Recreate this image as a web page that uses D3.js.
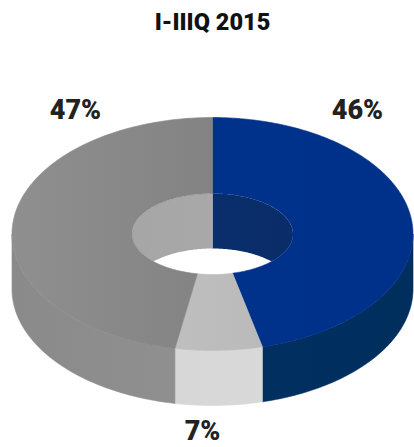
<!DOCTYPE html>
<html>
<head>
<meta charset="utf-8">
<script src="https://cdn.jsdelivr.net/npm/d3@7/dist/d3.min.js"></script>
<style>
  html, body { margin: 0; padding: 0; background: #ffffff; }
  svg { display: block; }
</style>
</head>
<body>
<svg id="chart" width="414" height="447"></svg>
<script>
// Share of the period, in percent, clockwise from 12 o'clock
const title = "I-IIIQ 2015";
const values = [46, 7, 47];
const labels = ["46%", "7%", "47%"];

// Ring geometry (projected ellipses) and extrusion depth
const W = 414, H = 447;
const cx = 212.5, cy = 234;
const outer = { rx: 200.5, ry: 116.5 };
const inner = { rx: 80.5, ry: 40.5 };
const depth = 55;

// Per-slice shading: top face, outer side, far inner wall
const shades = [
  { top: ["#00328c", "#00318a"], side: ["#013166", "#002e5d"], wall: ["#0b3070", "#092c66"] },
  { top: ["#c6c6c6", "#b3b3b3"], side: ["#d3d3d3", "#dcdcdc"], wall: ["#bdbdbd", "#bdbdbd"] },
  { top: ["#8f8f8f", "#777777"], side: ["#8a8a8a", "#989898"], wall: ["#a2a2a2", "#afafaf"] }
];

const svg = d3.select("#chart");
const defs = svg.append("defs");

// Horizontal gradients spanning the whole ring width
function gradient(id, stops) {
  const g = defs.append("linearGradient")
    .attr("id", id)
    .attr("gradientUnits", "userSpaceOnUse")
    .attr("x1", cx - outer.rx).attr("x2", cx + outer.rx)
    .attr("y1", 0).attr("y2", 0);
  g.selectAll("stop").data(stops).join("stop")
    .attr("offset", (d, i) => i / (stops.length - 1))
    .attr("stop-color", d => d);
  return `url(#${id})`;
}

const pie = d3.pie().sort(null).value(d => d).startAngle(0).endAngle(2 * Math.PI);
const arcs = pie(values);

// Project an angle (clockwise from top) on a ring ellipse, lowered by z
function pt(r, a, z = 0) {
  return [cx + r.rx * Math.sin(a), cy - r.ry * Math.cos(a) + z];
}
function arcPoints(r, a0, a1, z = 0) {
  const n = Math.max(2, Math.ceil(Math.abs(a1 - a0) / (Math.PI / 180)));
  return d3.range(n + 1).map(i => pt(r, a0 + (a1 - a0) * i / n, z));
}
const line = d3.line();
function closed(points) { return line(points) + "Z"; }

// Clip an angular span to a window [w0, w1]
function clipSpan(a0, a1, w0, w1) {
  const s = Math.max(a0, w0), e = Math.min(a1, w1);
  return s < e ? [s, e] : null;
}

// Gradient fills per slice
const fills = arcs.map((d, i) => ({
  top: gradient(`top${i}`, shades[i].top),
  side: gradient(`side${i}`, shades[i].side),
  wall: gradient(`wall${i}`, shades[i].wall)
}));

// 1) Far half of the inner wall, seen through the hole
defs.append("clipPath").attr("id", "hole")
  .append("path")
  .attr("d", closed(arcPoints(inner, 0, 2 * Math.PI)));

const holeG = svg.append("g").attr("clip-path", "url(#hole)");
const backWindows = [[-Math.PI / 2, Math.PI / 2], [1.5 * Math.PI, 2.5 * Math.PI]];
arcs.forEach((d, i) => {
  backWindows.forEach(([w0, w1]) => {
    const span = clipSpan(d.startAngle, d.endAngle, w0, w1);
    if (!span) return;
    const [s, e] = span;
    const pts = arcPoints(inner, s, e, 0).concat(arcPoints(inner, e, s, depth));
    holeG.append("path").attr("d", closed(pts)).attr("fill", fills[i].wall);
  });
});

// 2) Near half of the outer side wall
const sideG = svg.append("g");
arcs.forEach((d, i) => {
  const span = clipSpan(d.startAngle, d.endAngle, Math.PI / 2, 1.5 * Math.PI);
  if (!span) return;
  const [s, e] = span;
  const pts = arcPoints(outer, s, e, 0).concat(arcPoints(outer, e, s, depth));
  sideG.append("path").attr("d", closed(pts))
    .attr("fill", fills[i].side)
    .attr("stroke", fills[i].side).attr("stroke-width", 0.6);
});

// 3) Top faces of the ring
const topG = svg.append("g");
arcs.forEach((d, i) => {
  const pts = arcPoints(outer, d.startAngle, d.endAngle)
    .concat(arcPoints(inner, d.endAngle, d.startAngle));
  topG.append("path").attr("d", closed(pts))
    .attr("fill", fills[i].top)
    .attr("stroke", fills[i].top).attr("stroke-width", 0.6);
});

// Title
svg.append("text")
  .attr("x", cx).attr("y", 30)
  .attr("text-anchor", "middle")
  .attr("font-family", "Roboto, 'DejaVu Sans', sans-serif")
  .attr("font-weight", 900)
  .attr("font-size", 23.5)
  .attr("fill", "#111111")
  .text(title);

// Percentage labels: side slices sit above the ring, the small one below it
const topY = cy - outer.ry;
const bottomY = cy + outer.ry + depth;
svg.append("g").selectAll("text").data(arcs).join("text")
  .attr("x", d => {
    const m = (d.startAngle + d.endAngle) / 2;
    return Math.abs(Math.sin(m)) > 0.5 ? cx + 4 + Math.sign(Math.sin(m)) * 141 : cx - 10;
  })
  .attr("y", d => {
    const m = (d.startAngle + d.endAngle) / 2;
    return Math.abs(Math.sin(m)) > 0.5 ? topY + 1 : bottomY + 34;
  })
  .attr("text-anchor", "middle")
  .attr("font-family", "Roboto, 'DejaVu Sans', sans-serif")
  .attr("font-weight", 900)
  .attr("font-size", 27)
  .attr("fill", "#222222")
  .text((d, i) => labels[i]);
</script>
</body>
</html>
